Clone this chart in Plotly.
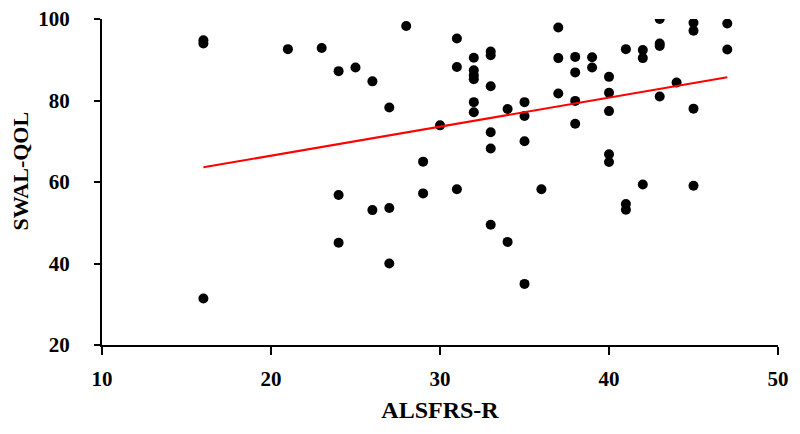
import plotly.graph_objects as go

# ALSFRS-R score vs SWAL-QOL score, one entry per patient
alsfrs = [16, 16, 16, 21, 23, 24, 24, 24, 25, 26, 26, 27, 27, 27, 28, 29, 29, 30,
          31, 31, 31, 32, 32, 32, 32, 32, 32, 33, 33, 33, 33, 33, 33, 34, 34,
          35, 35, 35, 35, 36, 37, 37, 37, 38, 38, 38, 38, 39, 39, 40, 40, 40,
          40, 40, 41, 41, 41, 42, 42, 42, 43, 43, 43, 43, 44, 45, 45, 45, 45,
          47, 47]
swal_qol = [94.8, 94.0, 31.4, 92.6, 92.9, 87.2, 56.8, 45.1, 88.1, 84.7, 53.1, 78.3, 53.6, 40.0, 98.3, 65.0, 57.2, 73.9,
            95.2, 88.2, 58.2, 90.5, 87.4, 86.2, 85.2, 79.6, 77.1, 92.0, 91.1, 83.5, 72.2, 68.2, 49.5, 77.9, 45.3,
            79.6, 76.2, 70.0, 35.0, 58.2, 97.9, 90.4, 81.7, 90.7, 86.9, 79.9, 74.3, 90.6, 88.1, 85.8, 81.9, 77.4,
            66.8, 64.9, 92.6, 54.6, 53.2, 92.4, 90.4, 59.4, 100.0, 94.0, 93.4, 81.0, 84.4, 99.1, 97.1, 78.0, 59.1,
            98.9, 92.5]

# linear trend line end points
trend_x = [16, 47]
trend_y = [63.6, 85.7]

x_ticks = [10, 20, 30, 40, 50]
y_ticks = [20, 40, 60, 80, 100]

serif = dict(family="Liberation Serif", size=21, color="black", weight="bold")
title_font = dict(family="Liberation Serif", size=24, color="black", weight="bold")

fig = go.Figure()
fig.add_trace(go.Scatter(x=alsfrs, y=swal_qol, mode='markers',
                         marker=dict(color='black', size=10), showlegend=False))
fig.add_trace(go.Scatter(x=trend_x, y=trend_y, mode='lines',
                         line=dict(color='red', width=2), showlegend=False))

# page body has an 8px margin, so the figure is made 8px smaller
fig.update_layout(width=792, height=426,
                  margin=dict(l=94, r=22, t=11, b=89),
                  plot_bgcolor='white', paper_bgcolor='white',
                  xaxis=dict(range=[10, 50], tickvals=x_ticks, showgrid=False, zeroline=False,
                             showline=True, linecolor='black', linewidth=2, automargin=False,
                             ticks='outside', ticklen=8, tickwidth=2, tickcolor='black',
                             tickfont=serif, ticklabelstandoff=6, ticklabeloverflow='allow',
                             title=dict(text='ALSFRS-R', font=title_font, standoff=11)),
                  yaxis=dict(range=[20, 100], tickvals=y_ticks, showgrid=False, zeroline=False,
                             showline=True, linecolor='black', linewidth=2, automargin=False,
                             ticks='outside', ticklen=6, tickwidth=2, tickcolor='black',
                             tickfont=serif, ticklabelstandoff=20, ticklabeloverflow='allow'),
                  annotations=[dict(text='SWAL-QOL', textangle=-90, xref='paper', yref='paper',
                                    x=-0.12, y=0.535, xanchor='center', yanchor='middle',
                                    showarrow=False,
                                    font=dict(family="Liberation Serif", size=22,
                                              color="black", weight="bold"))])

fig.write_html("out.html")
